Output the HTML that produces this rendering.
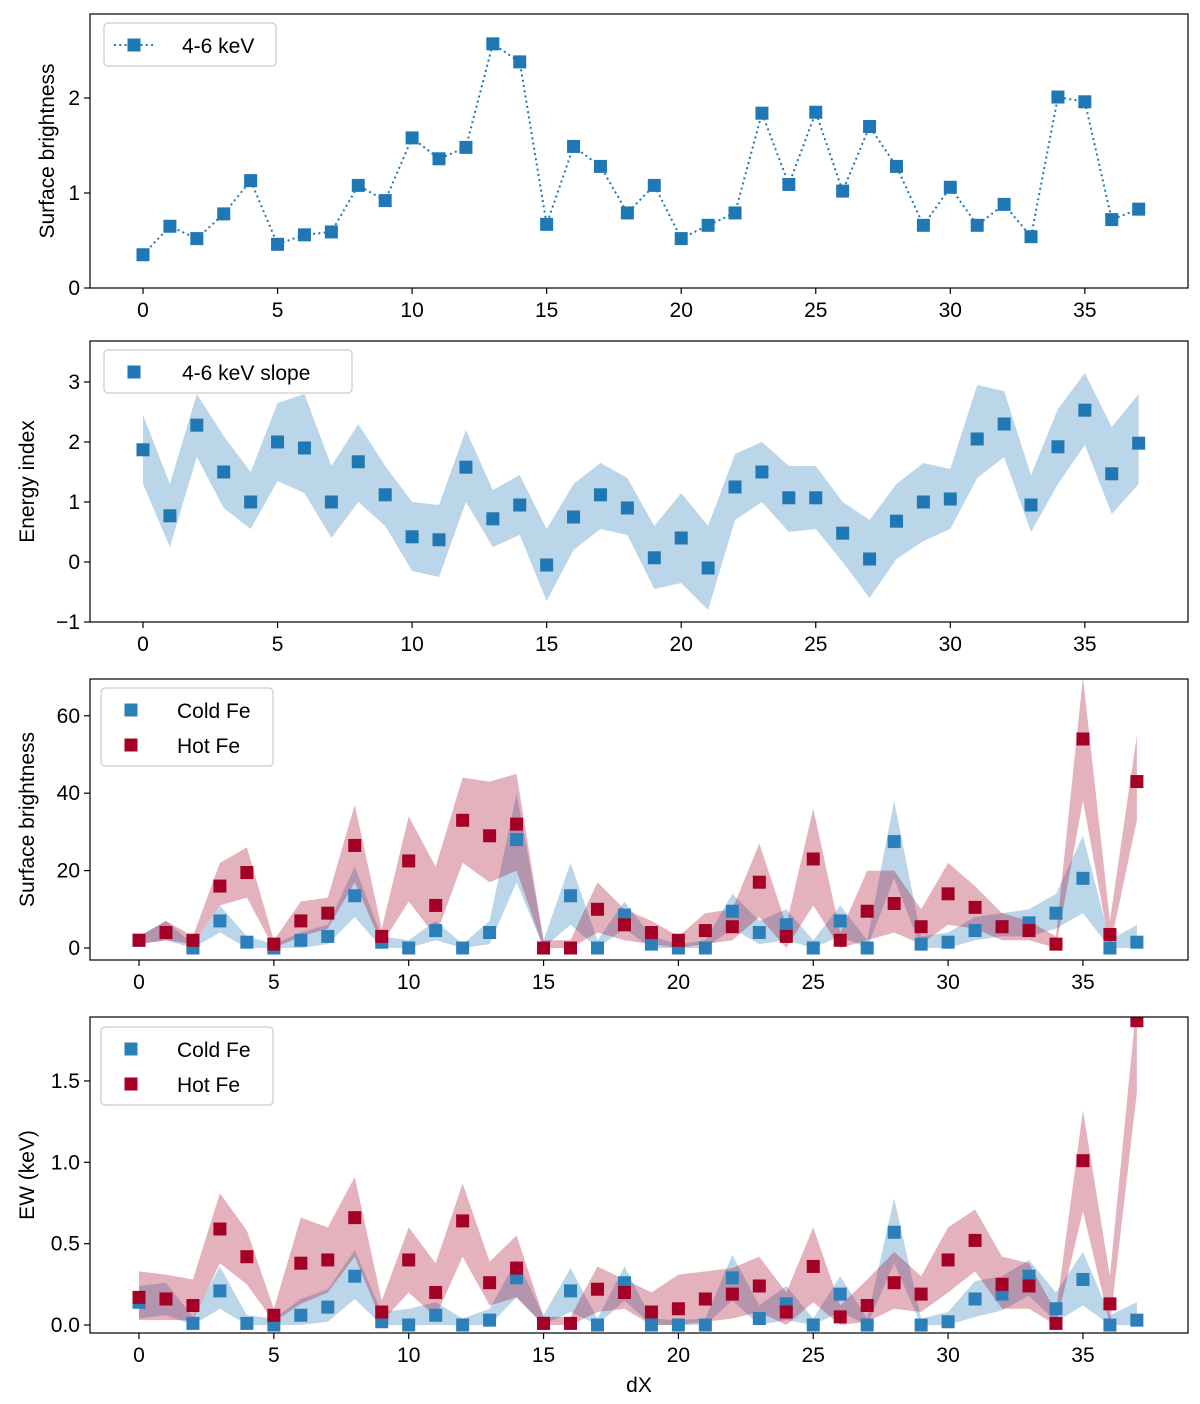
<!DOCTYPE html>
<html><head><meta charset="utf-8"><style>
body{margin:0;background:#fff}
svg text{font-family:"Liberation Sans",sans-serif;fill:#000}
</style></head><body>
<svg id="c" width="1200" height="1399" xmlns="http://www.w3.org/2000/svg"></svg>
<script>
const dx = Array.from({length:38},(_,i)=>i);
const sb46 = [0.35,0.65,0.52,0.78,1.13,0.46,0.56,0.59,1.08,0.92,1.58,1.36,1.48,2.57,2.38,0.67,1.49,1.28,0.79,1.08,0.52,0.66,0.79,1.84,1.09,1.85,1.02,1.70,1.28,0.66,1.06,0.66,0.88,0.54,2.01,1.96,0.72,0.83];
const slope = [1.87,0.77,2.28,1.5,1.0,2.0,1.9,1.0,1.67,1.12,0.42,0.37,1.58,0.72,0.95,-0.05,0.75,1.12,0.9,0.07,0.4,-0.1,1.25,1.5,1.07,1.07,0.48,0.05,0.68,1.0,1.05,2.05,2.3,0.95,1.92,2.53,1.47,1.98];
const slopeHi = [2.45,1.3,2.8,2.1,1.5,2.65,2.8,1.6,2.3,1.6,1.0,0.95,2.2,1.2,1.45,0.55,1.3,1.65,1.4,0.6,1.15,0.6,1.8,2.0,1.6,1.6,1.0,0.7,1.3,1.65,1.55,2.95,2.85,1.45,2.55,3.15,2.25,2.8];
const slopeLo = [1.3,0.25,1.75,0.9,0.55,1.35,1.15,0.4,1.0,0.6,-0.15,-0.25,1.0,0.25,0.45,-0.65,0.2,0.55,0.45,-0.45,-0.35,-0.8,0.7,1.0,0.5,0.55,0.0,-0.6,0.05,0.35,0.55,1.4,1.75,0.5,1.3,1.95,0.8,1.3];
const hotSB = [2,4,2,16,19.5,1,7,9,26.5,3,22.5,11,33,29,32,0,0,10,6,4,2,4.5,5.5,17,3,23,2,9.5,11.5,5.5,14,10.5,5.5,4.5,1,54,3.5,43];
const hotSBHi = [3,7,3,22,26,2,12,13,37,5,34,21,44,43,45,2,2,17,10,7,3,9,10,27,6,36,4,20,20,10,22,16,9,7,3,70,7,55];
const hotSBLo = [1,2,1,11,13,0,3,5,17,1,12,3,22,17,20,0,0,4,2,1,0,1,2,8,0,11,0,2,4,1,6,5,2,2,0,38,0,33];
const coldSB = [2,4,0,7,1.5,0,2,3,13.5,1.5,0,4.5,0,4,28,0,13.5,0,8.5,1,0,0,9.5,4,6,0,7,0,27.5,1,1.5,4.5,5.5,6.5,9,18,0,1.5];
const coldSBHi = [3,7,1,11,3,1,4,6,21,3,2,7,1,7,40,2,22,2,12,3,1,2,14,7,10,2,11,2,38,3,4,8,9,10,14,29,2,6];
const coldSBLo = [1,2,0,4,0,0,0,1,8,0,0,2,0,1,17,0,6,0,5,0,0,0,5,1,2,0,3,0,18,0,0,2,3,3,5,9,0,0];
const hotEW = [0.17,0.16,0.12,0.59,0.42,0.06,0.38,0.40,0.66,0.08,0.40,0.20,0.64,0.26,0.35,0.01,0.01,0.22,0.20,0.08,0.10,0.16,0.19,0.24,0.08,0.36,0.05,0.12,0.26,0.19,0.40,0.52,0.25,0.24,0.01,1.01,0.13,1.87];
const hotEWHi = [0.33,0.31,0.28,0.81,0.58,0.1,0.66,0.6,0.91,0.15,0.6,0.38,0.87,0.39,0.55,0.05,0.05,0.36,0.28,0.2,0.31,0.33,0.35,0.42,0.2,0.6,0.12,0.28,0.45,0.3,0.6,0.71,0.42,0.38,0.08,1.32,0.3,2.0];
const hotEWLo = [0.03,0.03,0.03,0.38,0.25,0.02,0.13,0.2,0.42,0.02,0.2,0.05,0.42,0.12,0.17,0,0,0.08,0.1,0,0,0.02,0.04,0.08,0,0.14,0,0.02,0.1,0.08,0.2,0.33,0.1,0.1,0,0.7,0,1.43];
const coldEW = [0.14,0.16,0.01,0.21,0.01,0,0.06,0.11,0.30,0.02,0,0.06,0,0.03,0.29,0.01,0.21,0,0.26,0,0,0,0.29,0.04,0.13,0,0.19,0,0.57,0,0.02,0.16,0.19,0.30,0.10,0.28,0,0.03];
const coldEWHi = [0.24,0.26,0.05,0.36,0.06,0.04,0.16,0.22,0.46,0.08,0.1,0.14,0.04,0.1,0.4,0.06,0.35,0.04,0.36,0.04,0.03,0.04,0.43,0.12,0.24,0.04,0.3,0.04,0.78,0.04,0.08,0.27,0.3,0.4,0.2,0.45,0.06,0.14];
const coldEWLo = [0.04,0.06,0,0.1,0,0,0,0.02,0.16,0,0,0,0,0,0.17,0,0.08,0,0.15,0,0,0,0.15,0,0.03,0,0.08,0,0.38,0,0,0.05,0.09,0.18,0.02,0.12,0,0];
const xTicks = [0,5,10,15,20,25,30,35];

const NS="http://www.w3.org/2000/svg";
const svg=document.getElementById('c');
function el(tag,attrs,parent){const e=document.createElementNS(NS,tag);for(const k in attrs)e.setAttribute(k,attrs[k]);(parent||svg).appendChild(e);return e;}
function txt(s,attrs,parent){const e=el('text',attrs,parent);e.textContent=s;return e;}
let clipN=0;
function panel(cfg){
  const g=el('g',{});
  
  
  const X=v=>cfg.x0+v*cfg.xs;
  const Y=v=>cfg.bot-(v-cfg.ymin)*(cfg.bot-cfg.top)/(cfg.ymax-cfg.ymin);
  const cid='clip'+(clipN++);
  const cp=el('clipPath',{id:cid},g);
  el('rect',{x:cfg.left,y:cfg.top,width:cfg.right-cfg.left,height:cfg.bot-cfg.top},cp);
  const pg=el('g',{'clip-path':'url(#'+cid+')'},g);
  cfg.bands.forEach(b=>{
    let d='M'+dx.map(i=>X(i)+','+Y(b.hi[i])).join('L')+'L'+dx.slice().reverse().map(i=>X(i)+','+Y(b.lo[i])).join('L')+'Z';
    const p=el('path',{d:d,fill:b.color,'fill-opacity':0.3,stroke:'none'},pg);
    
    
  });
  cfg.series.forEach(s=>{
    if(s.line){
      const l=el('polyline',{points:dx.map(i=>X(i)+','+Y(s.v[i])).join(' '),fill:'none',stroke:s.color,'stroke-width':2,'stroke-dasharray':'2,3.3'},pg);
      
      
    }
    dx.forEach(i=>{
      const r=el('rect',{x:X(i)-6.5,y:Y(s.v[i])-6.5,width:13,height:13,fill:s.color},pg);
      
      
    });
  });
  const box=el('rect',{x:cfg.left,y:cfg.top,width:cfg.right-cfg.left,height:cfg.bot-cfg.top,fill:'none',stroke:'#000','stroke-width':1.2},g);
  
  
  xTicks.forEach(t=>{
    el('line',{x1:X(t),x2:X(t),y1:cfg.bot,y2:cfg.bot+6,stroke:'#000','stroke-width':1.2},g);
    const tl=txt(String(t),{x:X(t),y:cfg.bot+29,'font-size':21,'text-anchor':'middle'},g);
    
    
  });
  cfg.yTicks.forEach((t,k)=>{
    el('line',{x1:cfg.left-6,x2:cfg.left,y1:Y(t),y2:Y(t),stroke:'#000','stroke-width':1.2},g);
    const tl=txt(cfg.yLabels[k],{x:cfg.left-10,y:Y(t)+7,'font-size':21,'text-anchor':'end'},g);
    
    
  });
  const yl=txt(cfg.ylabel,{x:0,y:0,'font-size':21,'text-anchor':'middle',transform:`translate(${cfg.ylx},${(cfg.top+cfg.bot)/2}) rotate(-90)`},g);
  
  
  const L=cfg.legend;
  const lg=el('g',{},g);
  
  
  el('rect',{x:L.x,y:L.y,width:L.w,height:L.h,rx:4,fill:'#fff',stroke:'#ccc','stroke-width':1.2},lg);
  L.items.forEach((it,k)=>{
    const cy=L.y+22+k*35;
    if(it.line) el('line',{x1:L.x+10,x2:L.x+50,y1:cy,y2:cy,stroke:it.color,'stroke-width':2,'stroke-dasharray':'2,3.3'},lg);
    el('rect',{x:L.x+30-6.5,y:cy-6.5,width:13,height:13,fill:it.color},lg);
    const t=txt(it.label,{x:L.x+L.tx,y:cy+8,'font-size':21},lg);
    
    
  });
}
const B='#1f77b4', CB='#2c7fb8', HR='#a50026';
panel({name:'surface-brightness-4-6kev-panel',left:90,right:1188,top:14,bot:288,x0:143,xs:26.91,ymin:0,ymax:2.884,
  yTicks:[0,1,2],yLabels:['0','1','2'],ylabel:'Surface brightness',ylx:54,bands:[],
  series:[{name:'4-6kev',v:sb46,color:B,line:true}],
  legend:{x:104,y:23,w:172,h:43,tx:78,items:[{label:'4-6 keV',color:B,line:true}]}});
panel({name:'energy-index-panel',left:90,right:1188,top:341,bot:622,x0:143,xs:26.91,ymin:-1,ymax:3.683,
  yTicks:[-1,0,1,2,3],yLabels:['\u22121','0','1','2','3'],ylabel:'Energy index',ylx:34,
  bands:[{name:'slope-error-band',hi:slopeHi,lo:slopeLo,color:B}],
  series:[{name:'slope',v:slope,color:B}],
  legend:{x:104,y:350,w:248,h:43,tx:78,items:[{label:'4-6 keV slope',color:B}]}});
panel({name:'fe-surface-brightness-panel',left:90,right:1188,top:679,bot:960,x0:139,xs:26.97,ymin:-3.1,ymax:69.5,
  yTicks:[0,20,40,60],yLabels:['0','20','40','60'],ylabel:'Surface brightness',ylx:34,
  bands:[{name:'cold-fe-band',hi:coldSBHi,lo:coldSBLo,color:B},{name:'hot-fe-band',hi:hotSBHi,lo:hotSBLo,color:HR}],
  series:[{name:'cold-fe',v:coldSB,color:CB},{name:'hot-fe',v:hotSB,color:HR}],
  legend:{x:101,y:688,w:172,h:78,tx:76,items:[{label:'Cold Fe',color:CB},{label:'Hot Fe',color:HR}]}});
panel({name:'equivalent-width-panel',left:90,right:1188,top:1017,bot:1333,x0:139,xs:26.97,ymin:-0.049,ymax:1.893,
  yTicks:[0,0.5,1.0,1.5],yLabels:['0.0','0.5','1.0','1.5'],ylabel:'EW (keV)',ylx:34,
  bands:[{name:'cold-fe-ew-band',hi:coldEWHi,lo:coldEWLo,color:B},{name:'hot-fe-ew-band',hi:hotEWHi,lo:hotEWLo,color:HR}],
  series:[{name:'cold-fe-ew',v:coldEW,color:CB},{name:'hot-fe-ew',v:hotEW,color:HR}],
  legend:{x:101,y:1027,w:172,h:78,tx:76,items:[{label:'Cold Fe',color:CB},{label:'Hot Fe',color:HR}]}});
const xl=txt('dX',{x:639,y:1392,'font-size':21,'text-anchor':'middle'});


</script>
</body></html>
